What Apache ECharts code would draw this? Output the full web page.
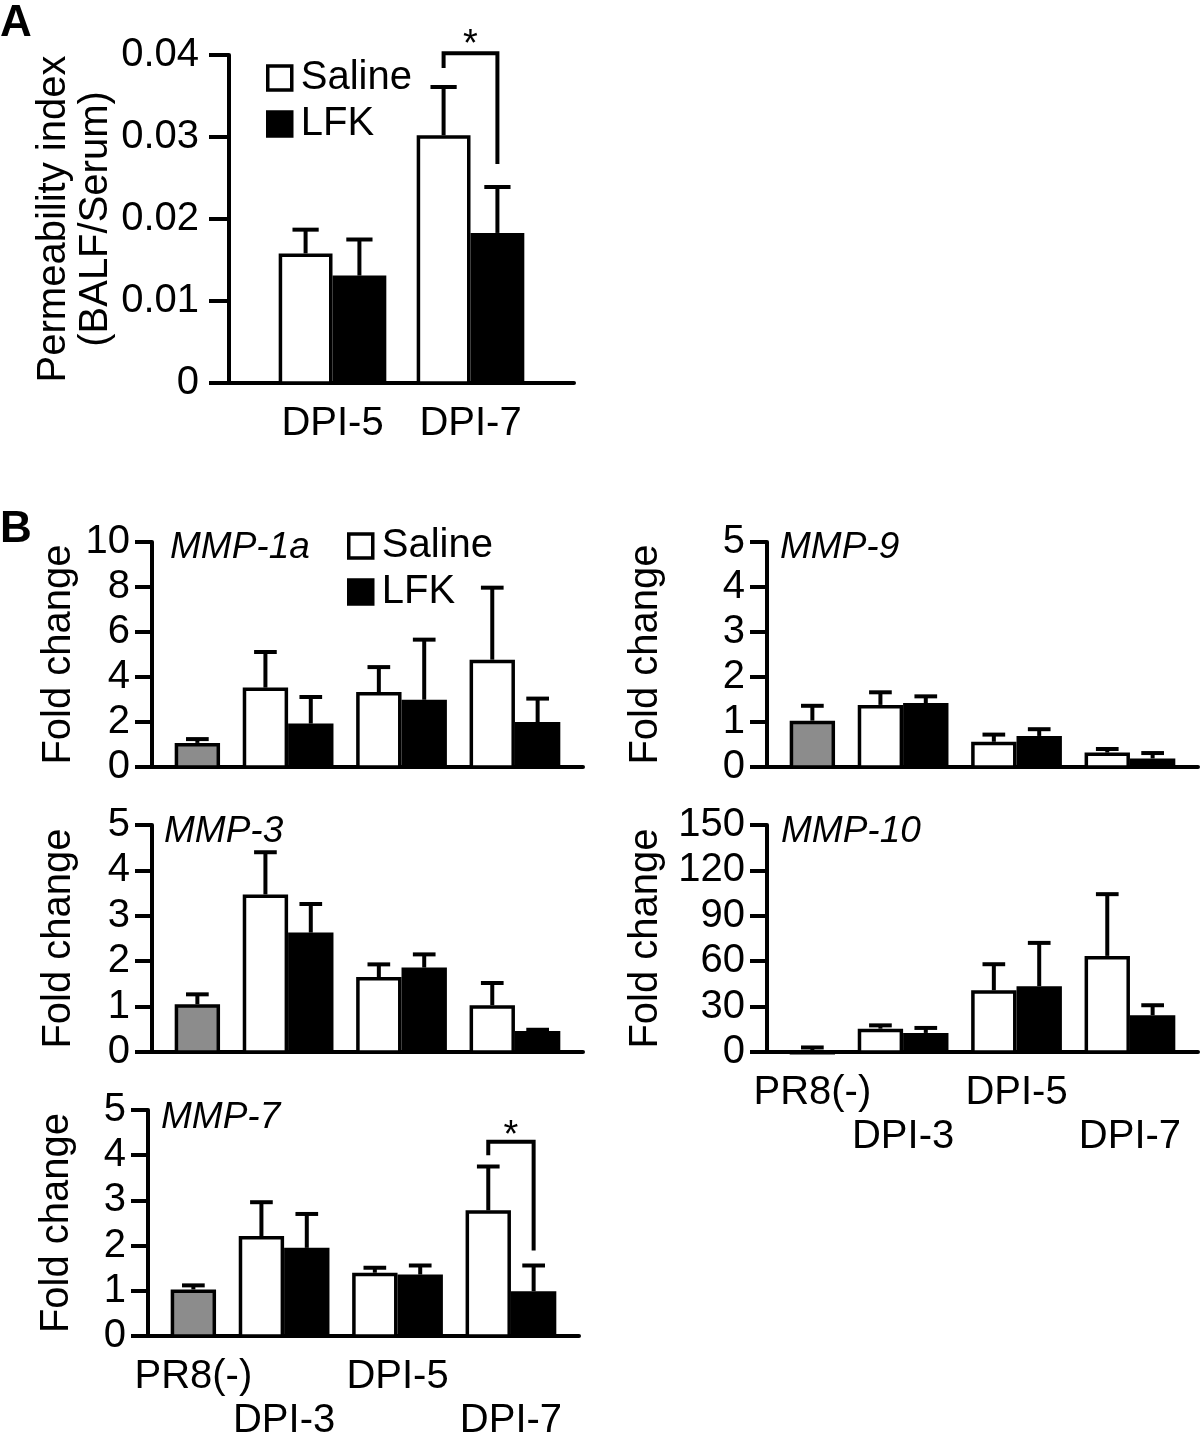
<!DOCTYPE html>
<html><head><meta charset="utf-8">
<script src="https://cdn.jsdelivr.net/npm/echarts@6/dist/echarts.min.js"></script>
<style>html,body{margin:0;padding:0;background:#fff}#c{width:1200px;height:1450px}</style>
</head><body><div id="c"></div>
<script>
// ================= DATA =================
// Panel A: permeability index (BALF/Serum)
const catA = ['DPI-5', 'DPI-7'];
const ticksA = [0, 0.01, 0.02, 0.03, 0.04];
const salineA = [0.0158, 0.0302];
const salineAErr = [0.0029, 0.0059];
const lfkA = [0.0131, 0.0183];
const lfkAErr = [0.0044, 0.0056];
const sigA = [0.0384, 0.0267, 0.0402, 0.0411]; // left leg end, right leg end, bracket top, star

// Panel B: fold change of MMP genes
const catB = ['PR8(-)', 'DPI-3', 'DPI-5', 'DPI-7'];

const ticks1a = [0, 2, 4, 6, 8, 10];
const mmp1aCtrl = [1.07, 0.17];
const mmp1aSaline = [3.53, 3.33, 4.77];
const mmp1aSalineErr = [1.58, 1.11, 3.20];
const mmp1aLfk = [1.93, 2.99, 2.00];
const mmp1aLfkErr = [1.18, 2.67, 1.04];

const ticks9 = [0, 1, 2, 3, 4, 5];
const mmp9Ctrl = [1.03, 0.33];
const mmp9Saline = [1.38, 0.56, 0.32];
const mmp9SalineErr = [0.28, 0.16, 0.08];
const mmp9Lfk = [1.42, 0.69, 0.19];
const mmp9LfkErr = [0.15, 0.15, 0.12];

const ticks3 = [0, 1, 2, 3, 4, 5];
const mmp3Ctrl = [1.05, 0.22];
const mmp3Saline = [3.47, 1.65, 1.03];
const mmp3SalineErr = [0.93, 0.28, 0.49];
const mmp3Lfk = [2.63, 1.86, 0.46];
const mmp3LfkErr = [0.63, 0.29, 0.03];

const ticks10 = [0, 30, 60, 90, 120, 150];
const mmp10Ctrl = [1.0, 2.0];
const mmp10Saline = [15.4, 40.8, 63.5];
const mmp10SalineErr = [2.2, 17.2, 40.8];
const mmp10Lfk = [12.6, 43.5, 24.3];
const mmp10LfkErr = [3.3, 28.6, 6.6];

const ticks7 = [0, 1, 2, 3, 4, 5];
const mmp7Ctrl = [1.03, 0.09];
const mmp7Saline = [2.21, 1.40, 2.78];
const mmp7SalineErr = [0.75, 0.11, 0.97];
const mmp7Lfk = [1.95, 1.36, 0.99];
const mmp7LfkErr = [0.75, 0.20, 0.57];
const sig7 = [4.00, 1.89, 4.30, 4.42];

// ================= LAYOUT / STYLE =================
const FONT = '"Liberation Sans", Arial, Helvetica, sans-serif';
const FS = 40;
// panel A x-units
const A_XMAX = 10, A_CENTERS = [3, 7], A_HALF = 0.78, A_CAP = 0.38;
// panel B x-units
const B_XMAX = 19, B_CTRL = 2, B_CENTERS = [6, 11, 16], B_HALF = 1, B_CAP = 0.5;
const B_LABELPOS = [B_CTRL].concat(B_CENTERS);

const grids = [
  {left: 229, top: 55, width: 345, height: 328},   // A
  {left: 152, top: 542, width: 431, height: 225},  // MMP-1a
  {left: 767, top: 542, width: 431, height: 225},  // MMP-9
  {left: 152, top: 825, width: 431, height: 227},  // MMP-3
  {left: 767, top: 825, width: 431, height: 227},  // MMP-10
  {left: 148, top: 1110, width: 431, height: 226}  // MMP-7
];

function xAxisCfg(gi, xmax, labelFn) {
  return {
    gridIndex: gi, type: 'value', min: 0, max: xmax, interval: 1,
    axisLine: {show: true, onZero: true, lineStyle: {color: '#000', width: 4}},
    axisTick: {show: false}, splitLine: {show: false},
    axisLabel: labelFn ? {show: true, margin: 19, fontSize: FS, color: '#000', fontFamily: FONT,
      lineHeight: 44, formatter: labelFn} : {show: false}
  };
}
function yAxisCfg(gi, ticks, name, nameGap, tickLen, margin) {
  return {
    gridIndex: gi, type: 'value', min: ticks[0], max: ticks[ticks.length - 1],
    interval: ticks[1] - ticks[0],
    axisLine: {show: true, onZero: true, lineStyle: {color: '#000', width: 4}},
    axisTick: {show: true, length: tickLen, lineStyle: {color: '#000', width: 4}},
    splitLine: {show: false},
    axisLabel: {show: true, margin: margin, fontSize: FS, color: '#000', fontFamily: FONT},
    name: name, nameLocation: 'middle', nameGap: nameGap, nameRotate: 90,
    nameTextStyle: {fontSize: FS, color: '#000', fontFamily: FONT, lineHeight: 42}
  };
}

function barSeries(name, gi, pts, fill, half, cap) {
  return {
    type: 'custom', name: name, xAxisIndex: gi, yAxisIndex: gi, clip: false, silent: true,
    itemStyle: {color: fill, borderColor: '#000', borderWidth: 3.5},
    data: pts,
    renderItem: function (params, api) {
      const x = api.value(0), v = api.value(1), e = api.value(2);
      const bl = api.coord([x - half, 0]);
      const tr = api.coord([x + half, v]);
      const tp = api.coord([x, v + e]);
      const cl = api.coord([x - cap, v + e]);
      const cr = api.coord([x + cap, v + e]);
      const lw = 3.5;
      const h = Math.max(bl[1] - tr[1] - lw / 2, 0.5);
      return {type: 'group', children: [
        {type: 'line', shape: {x1: tp[0], y1: tr[1], x2: tp[0], y2: tp[1]}, style: {stroke: '#000', lineWidth: 4}},
        {type: 'line', shape: {x1: cl[0], y1: tp[1], x2: cr[0], y2: tp[1]}, style: {stroke: '#000', lineWidth: 4}},
        {type: 'rect', shape: {x: bl[0] + lw / 2, y: tr[1] + lw / 2, width: tr[0] - bl[0] - lw, height: h},
          style: {fill: fill, stroke: '#000', lineWidth: lw}}
      ]};
    }
  };
}

function bracketSeries(gi, xl, xr, vals) {
  return {
    type: 'custom', name: 'sig', xAxisIndex: gi, yAxisIndex: gi, clip: false, silent: true,
    data: [[xl, xr, vals[0], vals[1], vals[2], vals[3]]],
    renderItem: function (params, api) {
      const a = api.coord([api.value(0), api.value(2)]);
      const b = api.coord([api.value(0), api.value(4)]);
      const c = api.coord([api.value(1), api.value(4)]);
      const d = api.coord([api.value(1), api.value(3)]);
      const s = api.coord([(api.value(0) + api.value(1)) / 2, api.value(5)]);
      return {type: 'group', children: [
        {type: 'polyline', shape: {points: [a, b, c, d]}, style: {stroke: '#000', lineWidth: 4, fill: null}},
        {type: 'text', x: s[0], y: s[1], style: {text: '*', fontSize: 38, fontFamily: FONT, fill: '#000',
          align: 'center', verticalAlign: 'middle'}}
      ]};
    }
  };
}

// build panel B series
function panelB(gi, ctrl, sal, salE, lfk, lfkE) {
  return [
    barSeries('PR8(-)', gi, [[B_CTRL, ctrl[0], ctrl[1]]], '#8c8c8c', B_HALF, B_CAP),
    barSeries('Saline', gi, sal.map((v, i) => [B_CENTERS[i] - B_HALF, v, salE[i]]), '#ffffff', B_HALF, B_CAP),
    barSeries('LFK', gi, lfk.map((v, i) => [B_CENTERS[i] + B_HALF, v, lfkE[i]]), '#000000', B_HALF, B_CAP)
  ];
}

const labelA = v => { const i = A_CENTERS.indexOf(v); return i < 0 ? '' : catA[i]; };
const labelB = v => { const i = B_LABELPOS.indexOf(v); return i < 0 ? '' : ((i % 2 ? '\n' : '') + catB[i]); };

const series = [
  barSeries('Saline', 0, salineA.map((v, i) => [A_CENTERS[i] - A_HALF, v, salineAErr[i]]), '#ffffff', A_HALF, A_CAP),
  barSeries('LFK', 0, lfkA.map((v, i) => [A_CENTERS[i] + A_HALF, v, lfkAErr[i]]), '#000000', A_HALF, A_CAP),
  bracketSeries(0, A_CENTERS[1] - A_HALF, A_CENTERS[1] + A_HALF, sigA)
].concat(
  panelB(1, mmp1aCtrl, mmp1aSaline, mmp1aSalineErr, mmp1aLfk, mmp1aLfkErr),
  panelB(2, mmp9Ctrl, mmp9Saline, mmp9SalineErr, mmp9Lfk, mmp9LfkErr),
  panelB(3, mmp3Ctrl, mmp3Saline, mmp3SalineErr, mmp3Lfk, mmp3LfkErr),
  panelB(4, mmp10Ctrl, mmp10Saline, mmp10SalineErr, mmp10Lfk, mmp10LfkErr),
  panelB(5, mmp7Ctrl, mmp7Saline, mmp7SalineErr, mmp7Lfk, mmp7LfkErr),
  [bracketSeries(5, B_CENTERS[2] - B_HALF, B_CENTERS[2] + B_HALF, sig7)]
);

const legendData = [
  {name: 'Saline', icon: 'rect', itemStyle: {color: '#ffffff', borderColor: '#000', borderWidth: 3.5}},
  {name: 'LFK', icon: 'rect', itemStyle: {color: '#000000', borderColor: '#000', borderWidth: 3.5}}
];
function legendCfg(left, top) {
  return {left: left, top: top, orient: 'vertical', itemWidth: 24, itemHeight: 24, itemGap: 6,
    selectedMode: false, padding: 0, data: legendData,
    textStyle: {fontSize: FS, color: '#000', fontFamily: FONT, lineHeight: 28, padding: [0, 0, 0, 4]}};
}
function mmpTitle(text, left, top) {
  return {text: text, left: left, top: top, padding: 0,
    textStyle: {fontSize: 37, fontStyle: 'italic', fontWeight: 'normal', color: '#000', fontFamily: FONT}};
}
const option = {
  backgroundColor: '#ffffff',
  animation: false,
  title: [
    {text: 'A', left: 0, top: 2, padding: 0, textStyle: {fontSize: 44, fontWeight: 'bold', color: '#000', fontFamily: FONT}},
    {text: 'B', left: 0, top: 508, padding: 0, textStyle: {fontSize: 44, fontWeight: 'bold', color: '#000', fontFamily: FONT}},
    mmpTitle('MMP-1a', 170, 529),
    mmpTitle('MMP-9', 780, 529),
    mmpTitle('MMP-3', 164, 813),
    mmpTitle('MMP-10', 781, 813),
    mmpTitle('MMP-7', 161, 1099)
  ],
  legend: [legendCfg(266, 58), legendCfg(347, 526)],
  grid: grids.map(g => Object.assign({outerBoundsMode: 'none', containLabel: false}, g)),
  xAxis: [
    xAxisCfg(0, A_XMAX, labelA),
    xAxisCfg(1, B_XMAX, null),
    xAxisCfg(2, B_XMAX, null),
    xAxisCfg(3, B_XMAX, null),
    xAxisCfg(4, B_XMAX, labelB),
    xAxisCfg(5, B_XMAX, labelB)
  ],
  yAxis: [
    yAxisCfg(0, ticksA, 'Permeability index\n(BALF/Serum)', 112, 20, 30),
    yAxisCfg(1, ticks1a, 'Fold change', 72, 17, 22),
    yAxisCfg(2, ticks9, 'Fold change', 100, 17, 22),
    yAxisCfg(3, ticks3, 'Fold change', 72, 17, 22),
    yAxisCfg(4, ticks10, 'Fold change', 100, 17, 22),
    yAxisCfg(5, ticks7, 'Fold change', 70, 17, 22)
  ],
  series: series
};
const chart = echarts.init(document.getElementById('c'), null, {renderer: 'canvas'});
chart.setOption(option);
</script></body></html>
